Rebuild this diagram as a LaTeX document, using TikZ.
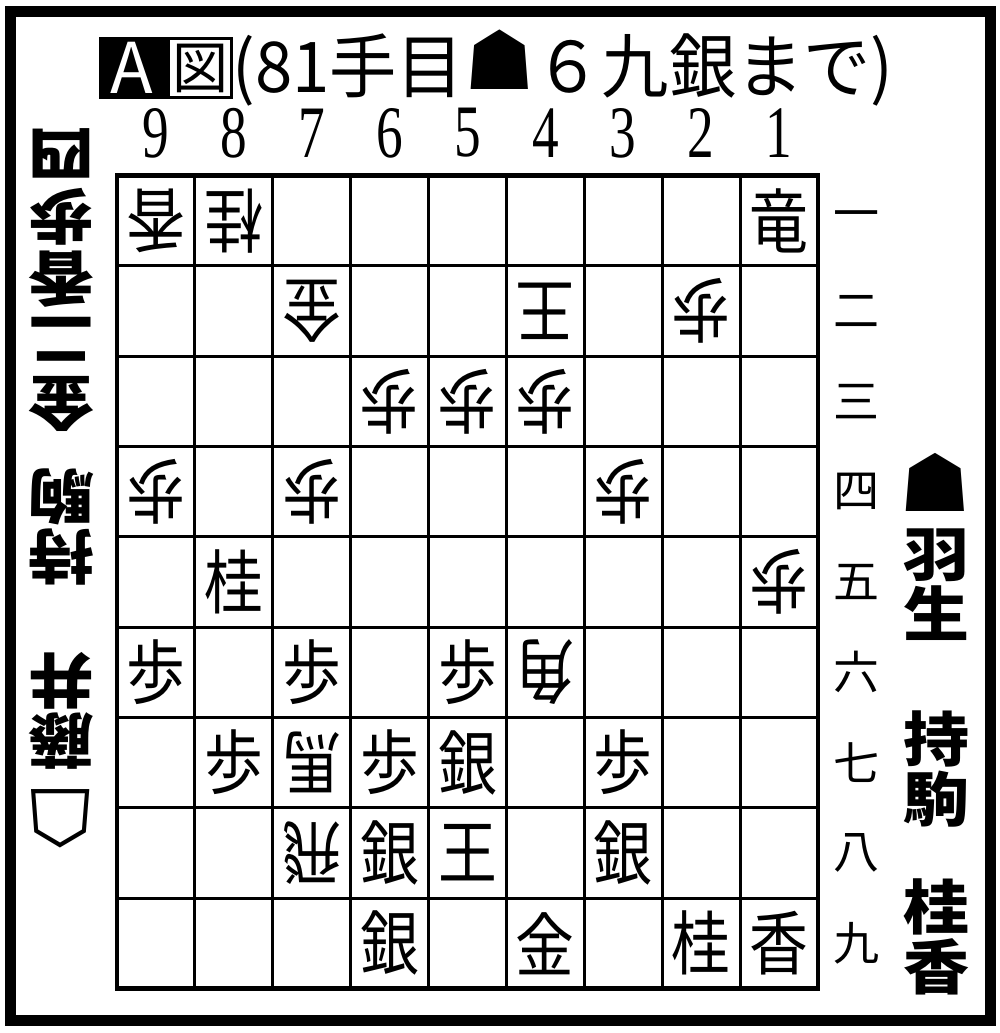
\documentclass[tikz,border=0pt]{standalone}
\usepackage{fontspec}
\newfontfamily\jpfont{Noto Sans CJK JP}
\newfontfamily\numfont{Liberation Serif}
\newfontfamily\symfont{DejaVu Sans}
\usetikzlibrary{positioning}

\begin{document}
\begin{tikzpicture}[x=1pt, y=-1pt,
    sente/.style={font=\jpfont\fontsize{70}{70}\selectfont, xscale=0.84, inner sep=0pt},
    gote/.style={sente, rotate=180},
    colnum/.style={font=\numfont\fontsize{74}{74}\selectfont, xscale=0.72, inner sep=0pt},
    rownum/.style={font=\jpfont\fontsize{46}{46}\selectfont, inner sep=0pt},
    mochi/.style={font=\jpfont\bfseries\fontsize{66}{66.7}\selectfont, yscale=0.9, align=center, inner sep=0pt},
    piecemark/.style={font=\symfont\fontsize{80}{80}\selectfont, inner sep=0pt}]
\useasboundingbox (0,0) rectangle (1000,1033);
\draw[line width=11pt] (10.5,12) rectangle (990,1020.5);

% title
\fill (99,37) rectangle (233,99);
\fill[white] (170,40) rectangle (230,96);
\node[text=white, font=\jpfont\fontsize{70}{70}\selectfont, inner sep=0pt] (figA) at (132,68) {A};
\node[font=\jpfont\fontsize{56}{56}\selectfont, inner sep=0pt] (zu) at (200,68) {図};
\node[font=\jpfont\fontsize{70}{70}\selectfont, xscale=0.96, inner sep=0pt, right=4pt of zu]
    (title) {(81手目{\symfont\fontsize{82}{70}\selectfont\raisebox{3pt}{☗}}６九銀まで)};

% board
\begin{scope}[xshift=818pt, yshift=-175.5pt, x=-77.9pt, y=-90.33pt]
\foreach \i in {1,...,8} {
  \draw[line width=2.8pt] (\i,0) -- (\i,9);
  \draw[line width=2.8pt] (0,\i) -- (9,\i);
}
\draw[line width=4.5pt] (0,0) rectangle (9,9);
\foreach \c in {1,...,9}
  \node[colnum] (col\c) at (\c-0.5,-0.47) {\c};
\foreach \r/\k in {1/一,2/二,3/三,4/四,5/五,6/六,7/七,8/八,9/九}
  \node[rownum] (row\r) at (-0.5,\r-0.5) {\k};

% gote
\node[gote] (p91) at (8.5,0.5) {香};
\node[gote] (p81) at (7.5,0.5) {桂};
\node[gote] (p72) at (6.5,1.5) {金};
\node[gote] (p42) at (3.5,1.5) {王};
\node[gote] (p22) at (1.5,1.5) {歩};
\node[gote] (p63) at (5.5,2.5) {歩};
\node[gote] (p53) at (4.5,2.5) {歩};
\node[gote] (p43) at (3.5,2.5) {歩};
\node[gote] (p94) at (8.5,3.5) {歩};
\node[gote] (p74) at (6.5,3.5) {歩};
\node[gote] (p34) at (2.5,3.5) {歩};
\node[gote] (p15) at (0.5,4.5) {歩};
\node[gote] (p46) at (3.5,5.5) {角};
\node[gote] (p77) at (6.5,6.5) {馬};
\node[gote] (p78) at (6.5,7.5) {飛};
% sente
\node[sente] (p11) at (0.5,0.5) {竜};
\node[sente] (p85) at (7.5,4.5) {桂};
\node[sente] (p96) at (8.5,5.5) {歩};
\node[sente] (p76) at (6.5,5.5) {歩};
\node[sente] (p56) at (4.5,5.5) {歩};
\node[sente] (p87) at (7.5,6.5) {歩};
\node[sente] (p67) at (5.5,6.5) {歩};
\node[sente] (p57) at (4.5,6.5) {銀};
\node[sente] (p37) at (2.5,6.5) {歩};
\node[sente] (p68) at (5.5,7.5) {銀};
\node[sente] (p58) at (4.5,7.5) {王};
\node[sente] (p38) at (2.5,7.5) {銀};
\node[sente] (p69) at (5.5,8.5) {銀};
\node[sente] (p49) at (3.5,8.5) {金};
\node[sente] (p29) at (1.5,8.5) {桂};
\node[sente] (p19) at (0.5,8.5) {香};
\end{scope}

% sente player
\node[piecemark] (sentemark) at (935,482) {☗};
\node[mochi] (sname) at (936,585) {羽\\生};
\node[mochi] (shand1) at (936,769) {持\\駒};
\node[mochi] (shand2) at (936,937) {桂\\香};

% gote player
\node[piecemark, rotate=180] (gotemark) at (61,819) {☖};
\node[mochi, rotate=180] (gname) at (61,711) {藤\\井};
\node[mochi, rotate=180] (ghand1) at (61,527) {持\\駒};
\node[mochi, rotate=180, font=\jpfont\bfseries\fontsize{66}{69}\selectfont]
    (ghand2) at (61,280) {金\\二\\香\\歩\\四};
\end{tikzpicture}
\end{document}
